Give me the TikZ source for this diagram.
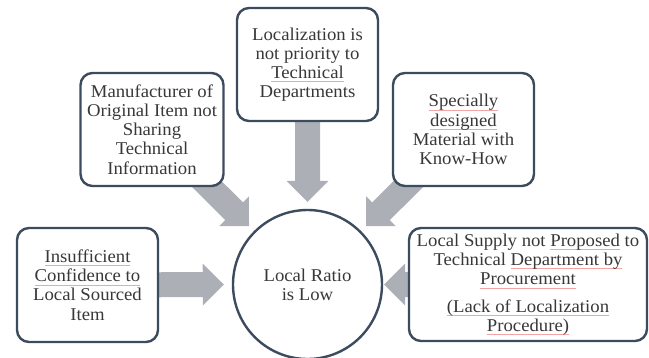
\documentclass[tikz,border=0pt]{standalone}
\usepackage{fontspec}
\setmainfont[FakeStretch=1.04]{Liberation Serif}
\usetikzlibrary{calc}

\definecolor{boxline}{HTML}{3D4B5E}
\definecolor{arrowfill}{HTML}{ACAFB6}
\definecolor{txt}{HTML}{383838}
\definecolor{splred}{HTML}{F3A5A5}

\pgfdeclarelayer{background}
\pgfsetlayers{background,main}

% thin red proofing underline under a word
\newlength\splwidth
\newcommand\spl[1]{\settowidth\splwidth{#1}\rlap{\color{splred}\vrule width\splwidth height -3.0pt depth 3.5pt}#1}

% broad grey block arrow from #1 to tip #2
\newcommand\blockarrow[2]{%
  \coordinate (ba) at ($(#2)!21pt!(#1)$);
  \fill[arrowfill]
    ($(#1)!12.5pt!90:(#2)$) -- ($(ba)!12.5pt!90:(#2)$) -- ($(ba)!21pt!90:(#2)$)
    -- (#2) -- ($(ba)!21pt!-90:(#2)$) -- ($(ba)!12.5pt!-90:(#2)$)
    -- ($(#1)!12.5pt!-90:(#2)$) -- cycle;
}

\tikzset{
  every node/.style={text=txt, font=\fontsize{18}{19.2}\selectfont, align=center, inner sep=0pt},
  cause/.style={draw=boxline, line width=2.4pt, rounded corners=12pt, fill=white},
  effect/.style={circle, draw=boxline, line width=2.4pt, fill=white, minimum size=149pt},
}

\begin{document}
\begin{tikzpicture}[x=1pt, y=-1pt]
  \useasboundingbox (0,0) rectangle (649,357);

  % centre problem and its causes
  \node[effect] (circ) at (307.5,284.5) {Local Ratio\\is Low};
  \node[cause, minimum width=141pt, minimum height=113pt] (top) at (307.5,64.5)
    {Localization is\\not priority to\\\spl{Technical}\\Departments};
  \node[cause, minimum width=143pt, minimum height=113pt] (ul) at (152,129.5)
    {Manufacturer of\\Original Item not\\Sharing\\Technical\\Information};
  \node[cause, minimum width=141pt, minimum height=113pt] (ur) at (463.5,129.5)
    {\spl{Specially}\\\spl{designed}\\Material with\\Know-How};
  \node[cause, minimum width=141pt, minimum height=114pt] (ll) at (87.5,285)
    {\spl{Insufficient}\\\spl{Confidence to}\\Local Sourced\\Item};
  \node[cause, minimum width=238pt, minimum height=113pt] (lr) at (528,284.5)
    {Local Supply not \spl{Proposed} to\\Technical \spl{Department by}\\\spl{Procurement}\\[8.4pt]
     \spl{(Lack of Localization}\\\spl{Procedure)}};

  % arrow tips just short of the circle
  \coordinate (tTop) at ($(circ.north)!7pt!(top.center)$);
  \coordinate (tUL)  at ($(circ.135)!7pt!(ul.center)$);
  \coordinate (tUR)  at ($(circ.45)!7pt!(ur.center)$);
  \coordinate (tLL)  at ($(circ.west)!8pt!(ll.center)$);
  \coordinate (tLR)  at ($(circ.east)!1pt!(lr.center)$);

  % arrows run behind the boxes
  \begin{pgfonlayer}{background}
    \blockarrow{top.center}{tTop}
    \blockarrow{ul.center}{tUL}
    \blockarrow{ur.center}{tUR}
    \blockarrow{ll.center}{tLL}
    \blockarrow{lr.center}{tLR}
  \end{pgfonlayer}
\end{tikzpicture}
\end{document}
